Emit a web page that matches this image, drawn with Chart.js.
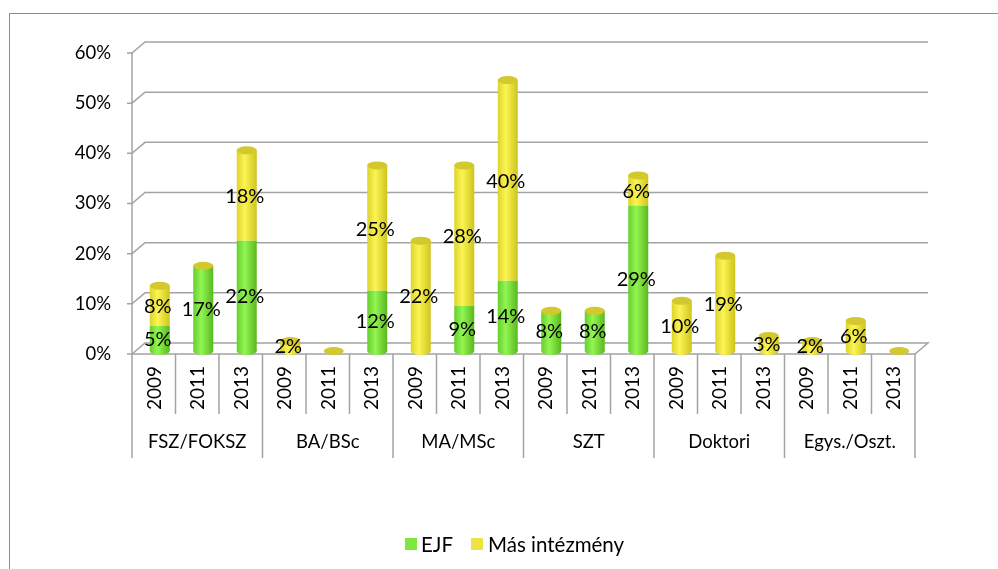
<!DOCTYPE html>
<html>
<head>
<meta charset="utf-8">
<script src="https://cdn.jsdelivr.net/npm/chart.js@4"></script>
<style>
  body { margin: 0; background: #fff; }
  canvas { display: block; }
</style>
</head>
<body>
<canvas id="chart" width="998" height="569"></canvas>
<script>
// data
const groups = ['FSZ/FOKSZ', 'BA/BSc', 'MA/MSc', 'SZT', 'Doktori', 'Egys./Oszt.'];
const years = ['2009', '2011', '2013'];
const ejf = [5, 17, 22, 0, 0, 12, 0, 9, 14, 8, 8, 29, 0, 0, 0, 0, 0, 0];
const mas = [8, 0, 18, 2, 0, 25, 22, 28, 40, 0, 0, 6, 10, 19, 3, 2, 6, 0];
const yTicks = [0, 10, 20, 30, 40, 50, 60];

const labels = [];
groups.forEach(() => years.forEach(y => labels.push(y)));

const FONT = '18.5px Lato';
const GRID = '#a3a3a3';
const DX = 13, DY = 11;      // depth of the 3D walls
const SHIFT = 6;             // bars sit a bit deeper than the front edge
const LIFT = 3;

const colors = {
    green: ['#66cf2c', '#92f552', '#5ab81e'],
    yellow: ['#ddd42a', '#fbf454', '#cec41c']
};

function cylGradient(ctx, x, w, stops) {
    const g = ctx.createLinearGradient(x - w / 2, 0, x + w / 2, 0);
    g.addColorStop(0, stops[0]);
    g.addColorStop(0.4, stops[1]);
    g.addColorStop(1, stops[2]);
    return g;
}

function barFill(key) {
    return function (context) {
        const chart = context.chart;
        const x = chart.scales.x;
        if (!chart.chartArea || !x) return colors[key][1];
        const colW = (chart.chartArea.right - chart.chartArea.left) / labels.length;
        return cylGradient(chart.ctx, x.getPixelForValue(context.dataIndex), colW * 0.46, colors[key]);
    };
}

// walls, axes and the category table
const backdrop = {
    id: 'backdrop',
    beforeDatasetsDraw(chart) {
        const { ctx, chartArea } = chart;
        const y = chart.scales.y;
        const colW = (chartArea.right - chartArea.left) / labels.length;
        const x0 = chartArea.left - SHIFT;
        const xR = x0 + colW * labels.length;
        const y0 = y.getPixelForValue(0);

        ctx.save();
        // outer frame
        ctx.strokeStyle = '#8c8c8c';
        ctx.lineWidth = 1;
        ctx.strokeRect(9.5, 13.5, 1100, 700);

        ctx.strokeStyle = GRID;
        ctx.lineWidth = 1.5;
        yTicks.forEach(v => {
            const py = y.getPixelForValue(v);
            ctx.beginPath();
            ctx.moveTo(x0 - 5, py);
            ctx.lineTo(x0, py);
            ctx.lineTo(x0 + DX, py - DY);
            ctx.lineTo(xR + DX, py - DY);
            if (v === 0) {
                ctx.lineTo(xR, py);
                ctx.lineTo(x0, py);
            }
            ctx.stroke();
        });
        // front value axis
        ctx.beginPath();
        ctx.moveTo(x0, y.getPixelForValue(yTicks[yTicks.length - 1]));
        ctx.lineTo(x0, y0);
        ctx.stroke();

        // table lines under the floor
        for (let i = 0; i <= labels.length; i++) {
            const px = x0 + colW * i;
            ctx.beginPath();
            ctx.moveTo(px, y0);
            ctx.lineTo(px, y0 + (i % 3 === 0 ? 104 : 60));
            ctx.stroke();
        }

        ctx.fillStyle = '#000';
        ctx.font = FONT;
        ctx.textAlign = 'right';
        ctx.textBaseline = 'middle';
        yTicks.forEach(v => ctx.fillText(v + '%', x0 - 21, y.getPixelForValue(v)));

        ctx.textAlign = 'center';
        ctx.font = '19px Lato';
        labels.forEach((lab, i) => {
            ctx.save();
            ctx.translate(x0 + colW * (i + 0.5), y0 + 34);
            ctx.rotate(-Math.PI / 2);
            ctx.fillText(lab, 0, 1);
            ctx.restore();
        });
        ctx.font = FONT;
        groups.forEach((g, i) => {
            ctx.fillText(g, x0 + colW * (i * 3 + 1.5), y0 + 88);
        });

        // legend
        ctx.textAlign = 'left';
        ctx.fillStyle = '#80e640';
        ctx.fillRect(405, 538, 12, 12);
        ctx.fillStyle = '#ede342';
        ctx.fillRect(471, 538, 12, 12);
        ctx.fillStyle = '#000';
        ctx.font = '20.5px Lato';
        ctx.fillText('EJF', 421, 545);
        ctx.fillText('Más intézmény', 488, 545);
        ctx.restore();

        // lift the cylinders onto the floor
        ctx.save();
        ctx.translate(0, -LIFT);
    },

    afterDatasetsDraw(chart) {
        const { ctx } = chart;
        const low = chart.getDatasetMeta(0).data;
        const high = chart.getDatasetMeta(1).data;
        labels.forEach((lab, i) => {
            const a = low[i], b = high[i];
            const rx = a.width / 2, ry = 4;
            if (ejf[i] + mas[i] > 0) {
                const key = ejf[i] > 0 ? 'green' : 'yellow';
                ctx.fillStyle = cylGradient(ctx, a.x, a.width, colors[key]);
                ctx.beginPath();
                ctx.ellipse(a.x, a.base, rx, ry, 0, 0, Math.PI * 2);
                ctx.fill();
            }
            ctx.fillStyle = '#d3c82e';
            ctx.beginPath();
            ctx.ellipse(b.x, b.y, rx, ry, 0, 0, Math.PI * 2);
            ctx.fill();
        });

        // value labels
        ctx.fillStyle = '#000';
        ctx.font = '20px Lato';
        ctx.textAlign = 'center';
        ctx.textBaseline = 'middle';
        [ejf, mas].forEach((vals, d) => {
            const els = chart.getDatasetMeta(d).data;
            vals.forEach((v, i) => {
                if (!v) return;
                ctx.fillText(v + '%', els[i].x - 2, (els[i].y + els[i].base) / 2 + 1);
            });
        });
        ctx.restore();
    }
};

new Chart(document.getElementById('chart'), {
    type: 'bar',
    data: {
        labels: labels,
        datasets: [
            { label: 'EJF', data: ejf, backgroundColor: barFill('green'), borderWidth: 0 },
            { label: 'Más intézmény', data: mas, backgroundColor: barFill('yellow'), borderWidth: 0 }
        ]
    },
    options: {
        responsive: false,
        animation: false,
        layout: { padding: { left: 138, right: 77, top: 53, bottom: 215 } },
        datasets: { bar: { categoryPercentage: 1, barPercentage: 0.46 } },
        plugins: { legend: { display: false }, tooltip: { enabled: false } },
        scales: {
            x: { stacked: true, display: false },
            y: { stacked: true, display: false, min: 0, max: 60 }
        }
    },
    plugins: [backdrop]
});
</script>
</body>
</html>
